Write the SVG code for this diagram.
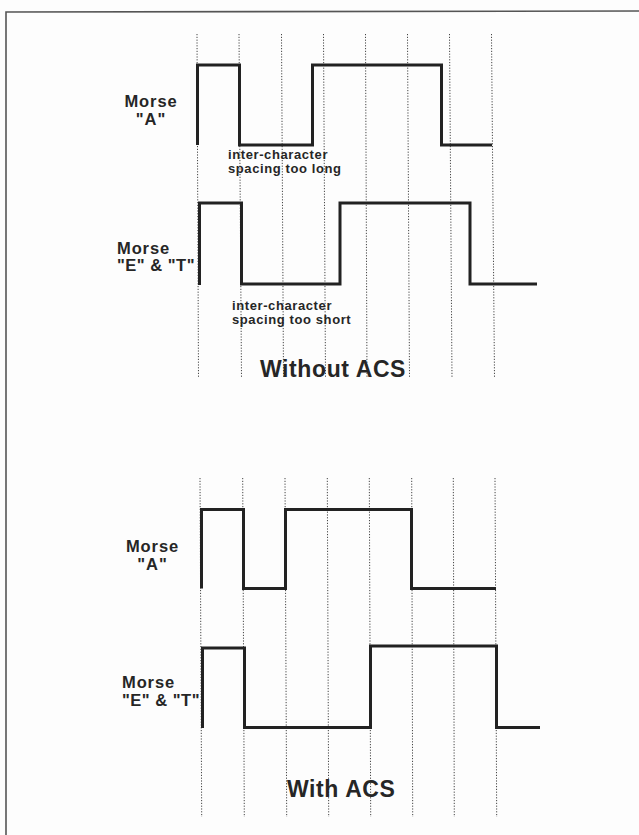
<svg xmlns="http://www.w3.org/2000/svg" width="639" height="835" viewBox="0 0 639 835">
<style>
.bg{fill:#fdfdfd}
.frame{fill:none;stroke:#555;stroke-width:1.6}
.grid line{stroke:#444;stroke-width:1;stroke-dasharray:1.2 1.6}
.wave{fill:none;stroke:#222;stroke-width:3;stroke-linejoin:miter;stroke-linecap:butt}
.lbl{font-family:"Liberation Sans",Arial,sans-serif;font-weight:bold;font-size:16.5px;fill:#262626;letter-spacing:0.9px}
.note{font-family:"Liberation Sans",Arial,sans-serif;font-weight:bold;font-size:13px;fill:#262626;letter-spacing:0.6px}
.title{font-family:"Liberation Sans",Arial,sans-serif;font-weight:bold;font-size:23px;fill:#262626;letter-spacing:0.6px}
</style>
<rect class="bg" x="0" y="0" width="639" height="835"/>
<polyline class="frame" points="6,835 6,12 639,11"/>

<g id="grid-without">
<g class="grid">
<line x1="197" y1="34" x2="198.5" y2="378"/>
<line x1="239" y1="34" x2="241.5" y2="378"/>
<line x1="281.5" y1="34" x2="283.5" y2="378"/>
<line x1="323.5" y1="34" x2="325.5" y2="378"/>
<line x1="365.5" y1="34" x2="367" y2="378"/>
<line x1="407.5" y1="34" x2="409.5" y2="378"/>
<line x1="449.5" y1="34" x2="452" y2="378"/>
<line x1="491.5" y1="34" x2="494.5" y2="378"/>
</g>
</g>

<g id="grid-with">
<g class="grid">
<line x1="200" y1="478" x2="201.7" y2="817"/>
<line x1="242.7" y1="478" x2="244.3" y2="817"/>
<line x1="285" y1="478" x2="286.7" y2="817"/>
<line x1="327.3" y1="478" x2="328.7" y2="817"/>
<line x1="369.3" y1="478" x2="370.7" y2="817"/>
<line x1="411.7" y1="478" x2="412.7" y2="817"/>
<line x1="453.3" y1="478" x2="454.3" y2="817"/>
<line x1="495" y1="478" x2="496.7" y2="817"/>
</g>
</g>

<g id="wave-a-without">
<path class="wave" d="M197.5,145 V65 H239.5 V145 H312.5 V65 H441.5 V145 H492"/>
<text class="lbl" x="151" y="107" text-anchor="middle">Morse</text>
<text class="lbl" x="151" y="125" text-anchor="middle">"A"</text>
<text class="note" x="228" y="159">inter-character</text>
<text class="note" x="228" y="173">spacing too long</text>
</g>

<g id="wave-et-without">
<path class="wave" d="M199.5,285 V203 H241.5 V284 H340 V203 H470 V284 H537"/>
<text class="lbl" x="117" y="253.5">Morse</text>
<text class="lbl" x="117" y="271" style="letter-spacing:0.5px">"E" &amp; "T"</text>
<text class="note" x="232" y="310">inter-character</text>
<text class="note" x="232" y="323.5">spacing too short</text>
</g>

<g id="title-without">
<text class="title" x="260" y="376.5">Without ACS</text>
</g>

<g id="wave-a-with">
<path class="wave" d="M201.5,588.5 V509.5 H243.5 V588.5 H285.5 V509.5 H411.5 V588.5 H496"/>
<text class="lbl" x="152.5" y="551.5" text-anchor="middle">Morse</text>
<text class="lbl" x="152.5" y="570" text-anchor="middle">"A"</text>
</g>

<g id="wave-et-with">
<path class="wave" d="M202.5,728 V648 H244.5 V727.5 H370.5 V646 H496.5 V727.5 H540"/>
<text class="lbl" x="122" y="688">Morse</text>
<text class="lbl" x="122" y="705.5" style="letter-spacing:0.5px">"E" &amp; "T"</text>
</g>

<g id="title-with">
<text class="title" x="287" y="796.5">With ACS</text>
</g>
</svg>
